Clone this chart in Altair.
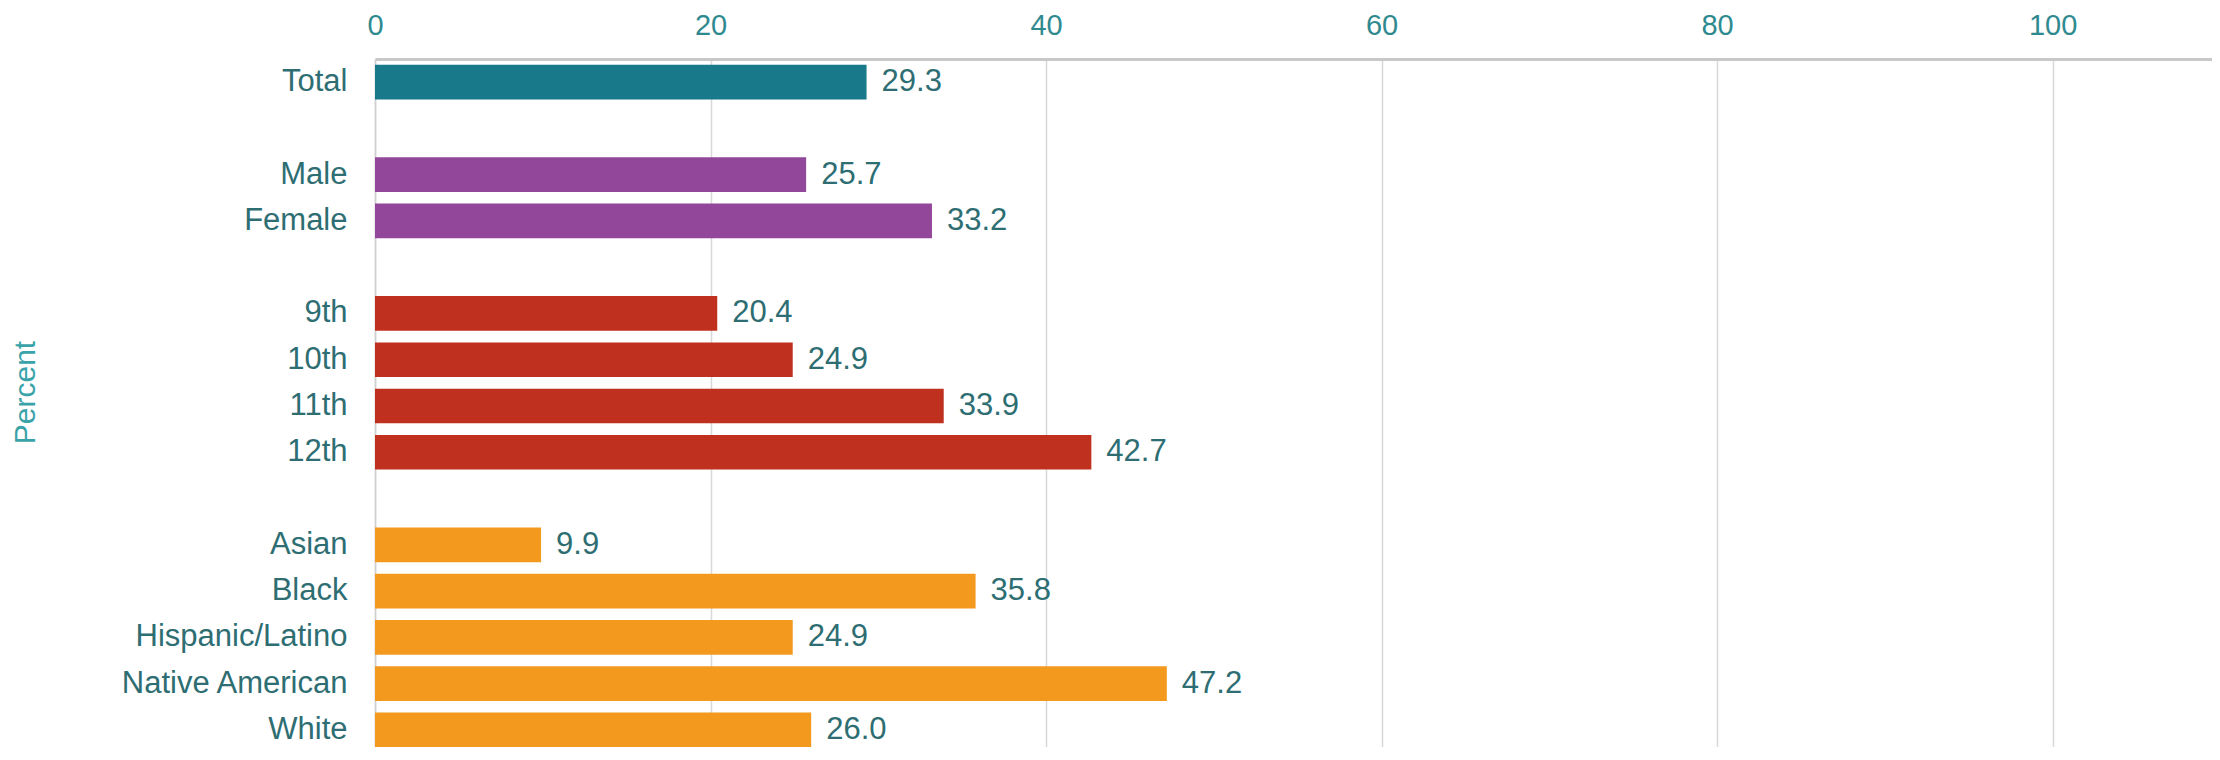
import altair as alt
import pandas as pd

# ---- data ----
categories = ["Total", "Male", "Female", "9th", "10th", "11th", "12th",
              "Asian", "Black", "Hispanic/Latino", "Native American", "White"]
values = [29.3, 25.7, 33.2, 20.4, 24.9, 33.9, 42.7, 9.9, 35.8, 24.9, 47.2, 26.0]
groups = ["Total", "Sex", "Sex", "Grade", "Grade", "Grade", "Grade",
          "Race", "Race", "Race", "Race", "Race"]

# row order on the y axis, blank rows separate the groups
row_order = ["Total", " ", "Male", "Female", "  ", "9th", "10th", "11th", "12th", "   ",
             "Asian", "Black", "Hispanic/Latino", "Native American", "White"]
group_names = ["Total", "Sex", "Grade", "Race"]
group_colors = ["#17798a", "#93479a", "#c0301f", "#f39a1e"]
x_ticks = [0, 20, 40, 60, 80, 100]

df = pd.DataFrame({"category": categories, "value": values, "group": groups})

FONT = "Liberation Sans"
TEXT_DARK = "#2e6e73"
TEXT_TEAL = "#2f8a90"

y_enc = alt.Y(
    "category:N",
    scale=alt.Scale(domain=row_order, paddingInner=0.25, paddingOuter=0.125),
    axis=alt.Axis(
        title="Percent",
        titleColor="#3aa3aa",
        titleFont=FONT,
        titleFontSize=30,
        titleFontWeight="normal",
        titleX=-335,
        titleY=333,
        labelFont=FONT,
        labelFontSize=31,
        labelColor=TEXT_DARK,
        labelPadding=28,
        labelLimit=500,
        ticks=False,
        domain=True,
        domainColor="#d0d0d0",
        domainWidth=1.5,
        grid=False,
    ),
)

x_enc = alt.X(
    "value:Q",
    scale=alt.Scale(domain=[0, 109.5], nice=False, zero=True),
    axis=alt.Axis(
        orient="top",
        title=None,
        values=x_ticks,
        labelFont=FONT,
        labelFontSize=29,
        labelColor=TEXT_TEAL,
        labelPadding=19,
        labelFlush=False,
        ticks=False,
        domain=True,
        domainColor="#c8c8c8",
        domainWidth=3,
        grid=True,
        gridColor="#d8d8d8",
        gridWidth=1.5,
    ),
)

bars = alt.Chart(df).mark_bar().encode(
    x=x_enc,
    y=y_enc,
    color=alt.Color("group:N",
                    scale=alt.Scale(domain=group_names, range=group_colors),
                    legend=None),
)

labels = alt.Chart(df).mark_text(
    align="left", baseline="middle", dx=15, font=FONT, fontSize=31, color=TEXT_DARK
).encode(
    x=alt.X("value:Q"),
    y=alt.Y("category:N"),
    text=alt.Text("value:Q", format=".1f"),
)

chart = alt.layer(bars, labels).properties(
    width=1837,
    height=694,
    autosize=alt.AutoSizeParams(type="none"),
    padding={"left": 367, "top": 51, "right": 0, "bottom": -6},
    background="white",
).configure_view(
    strokeWidth=0,
)

chart.save("out.html", embed_options={"renderer": "svg", "actions": False})
